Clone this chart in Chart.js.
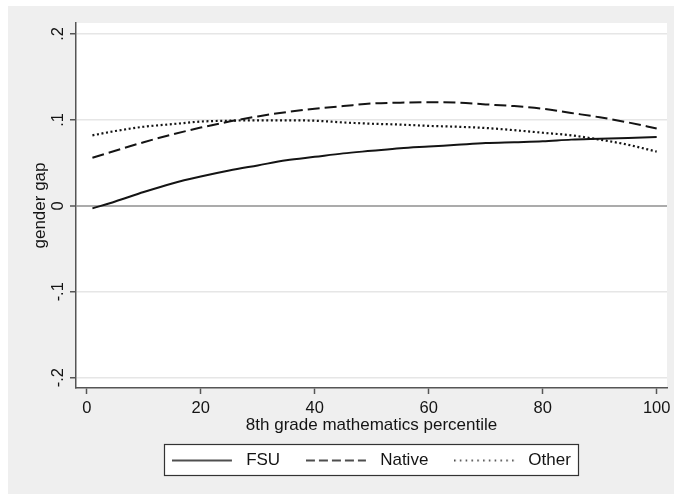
<!DOCTYPE html>
<html>
<head>
<meta charset="utf-8">
<script src="https://cdn.jsdelivr.net/npm/chart.js@4.4.1/dist/chart.umd.min.js"></script>
<style>
  html, body { margin: 0; padding: 0; background: #ffffff; }
  canvas { display: block; }
</style>
</head>
<body>
<canvas id="c" width="674" height="494"></canvas>
<script>
// ---- data ----
const xPct = [1, 5, 10, 15, 20, 25, 30, 35, 40, 45, 50, 55, 60, 65, 70, 75, 80, 85, 90, 95, 100];
const fsuGap = [-0.003, 0.005, 0.016, 0.026, 0.034, 0.041, 0.047, 0.053, 0.057, 0.061, 0.064, 0.067, 0.069, 0.071, 0.073, 0.074, 0.075, 0.077, 0.078, 0.079, 0.080];
const nativeGap = [0.056, 0.064, 0.074, 0.083, 0.091, 0.098, 0.104, 0.109, 0.113, 0.116, 0.119, 0.120, 0.1205, 0.120, 0.118, 0.116, 0.113, 0.108, 0.103, 0.097, 0.090];
const otherGap = [0.082, 0.087, 0.092, 0.095, 0.098, 0.099, 0.0995, 0.0995, 0.099, 0.097, 0.0955, 0.0945, 0.093, 0.092, 0.0905, 0.088, 0.085, 0.082, 0.077, 0.071, 0.063];
const seriesNames = ['FSU', 'Native', 'Other'];
const xTickVals = [0, 20, 40, 60, 80, 100];
const yTickVals = [-0.2, -0.1, 0, 0.1, 0.2];
const yTickLabels = ['-.2', '-.1', '0', '.1', '.2'];
const xTitle = '8th grade mathematics percentile';
const yTitle = 'gender gap';

const FONT = "'Liberation Sans', Arial, sans-serif";
const INK = '#141414';
const AXIS = '#555555';

function makeSample(dash, lw) {
  const c = document.createElement('canvas');
  c.width = 66; c.height = 10;
  const g = c.getContext('2d');
  g.strokeStyle = INK;
  g.lineWidth = lw;
  g.setLineDash(dash);
  g.beginPath();
  g.moveTo(0, 5);
  g.lineTo(60, 5);
  g.stroke();
  return c;
}
const samples = [makeSample([], 1.6), makeSample([9, 4], 1.6), makeSample([1.5, 4.3], 1.6)];

const pts = arr => xPct.map((x, i) => ({ x: x, y: arr[i] }));

const bgPlugin = {
  id: 'bg',
  beforeDraw(chart) {
    const ctx = chart.ctx, a = chart.chartArea;
    ctx.save();
    ctx.fillStyle = '#ffffff';
    ctx.fillRect(0, 0, chart.width, chart.height);
    ctx.fillStyle = '#efefef';
    ctx.fillRect(8, 6, chart.width - 8, chart.height - 6);
    ctx.fillStyle = '#ffffff';
    ctx.fillRect(a.left, a.top, a.right - a.left, a.bottom - a.top);
    const hb = chart.legend && chart.legend.legendHitBoxes;
    if (hb && hb.length) {
      const first = hb[0], last = hb[hb.length - 1];
      const l = Math.round(first.left - 8) + 0.5;
      const r = Math.round(last.left + last.width + 7) + 0.5;
      const t = Math.round(first.top - 8) + 0.5;
      const b = Math.round(first.top + 23) + 0.5;
      ctx.fillStyle = '#ffffff';
      ctx.fillRect(l, t, r - l, b - t);
      ctx.strokeStyle = '#333333';
      ctx.lineWidth = 1.2;
      ctx.strokeRect(l, t, r - l, b - t);
    }
    ctx.restore();
  }
};

const lineBase = { borderColor: INK, pointRadius: 0, cubicInterpolationMode: 'monotone', fill: false };

new Chart(document.getElementById('c'), {
  type: 'line',
  data: {
    datasets: [
      Object.assign({ label: seriesNames[0], data: pts(fsuGap), borderWidth: 2, borderDash: [] }, lineBase),
      Object.assign({ label: seriesNames[1], data: pts(nativeGap), borderWidth: 2, borderDash: [12, 5] }, lineBase),
      Object.assign({ label: seriesNames[2], data: pts(otherGap), borderWidth: 2.2, borderDash: [2, 2.6] }, lineBase)
    ]
  },
  options: {
    responsive: false,
    devicePixelRatio: 1,
    animation: false,
    layout: { padding: { left: 0, top: 23, right: 7, bottom: 15 } },
    scales: {
      x: {
        type: 'linear',
        min: -1.88,
        max: 101.81,
        afterBuildTicks: s => { s.ticks = xTickVals.map(v => ({ value: v })); },
        afterFit: s => { s.height = 38; s.paddingLeft = 0; s.paddingRight = 0; },
        grid: { drawOnChartArea: false, drawTicks: true, tickLength: 6, tickColor: AXIS, tickWidth: 1.5 },
        border: { display: true, color: AXIS, width: 1.5 },
        ticks: { color: INK, font: { family: FONT, size: 16.5 }, padding: 5, maxRotation: 0, autoSkip: false },
        title: { display: true, text: xTitle, color: INK, font: { family: FONT, size: 17, lineHeight: 1 }, padding: { top: 0, bottom: -7.5 } }
      },
      y: {
        type: 'linear',
        min: -0.212,
        max: 0.2127,
        afterBuildTicks: s => { s.ticks = yTickVals.map(v => ({ value: v })); },
        afterFit: s => { s.width = 76; s.paddingTop = 0; s.paddingBottom = 0; },
        grid: {
          drawTicks: true, tickLength: 6, tickColor: AXIS, tickWidth: 1.5,
          color: c => (c.tick && c.tick.value === 0) ? '#ababab' : '#e6e6e6',
          lineWidth: c => (c.tick && c.tick.value === 0) ? 2 : 1.5
        },
        border: { display: true, color: AXIS, width: 1.5 },
        ticks: {
          color: INK, font: { family: FONT, size: 16.5 }, padding: 2,
          minRotation: 90, maxRotation: 90, crossAlign: 'center', autoSkip: false,
          callback: v => { const i = yTickVals.findIndex(t => Math.abs(t - v) < 1e-9); return i >= 0 ? yTickLabels[i] : ''; }
        },
        title: { display: true, text: yTitle, color: INK, font: { family: FONT, size: 17, lineHeight: 1 }, padding: { top: 32.2, bottom: 0 } }
      }
    },
    plugins: {
      tooltip: { enabled: false },
      legend: {
        display: true,
        position: 'bottom',
        fullSize: false,
        labels: {
          color: INK,
          font: { family: FONT, size: 17 },
          usePointStyle: true,
          pointStyleWidth: 65.5,
          padding: 26,
          generateLabels: chart => {
            const items = Chart.defaults.plugins.legend.labels.generateLabels(chart);
            items.forEach((it, i) => { it.pointStyle = samples[i]; });
            return items;
          }
        }
      }
    }
  },
  plugins: [bgPlugin]
});
</script>
</body>
</html>
